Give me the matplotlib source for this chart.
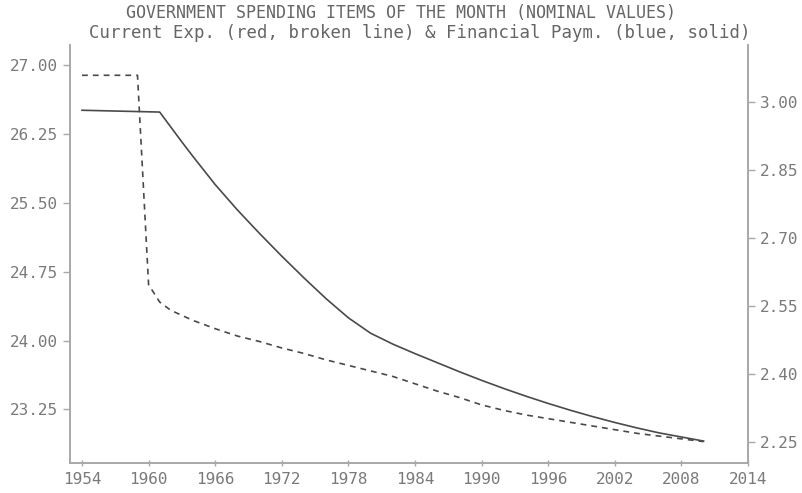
import numpy as np
import matplotlib
matplotlib.use("Agg")
import matplotlib.pyplot as plt

# current expenditure (left axis, broken line)
cur_years = [1954, 1959, 1960, 1961, 1962, 1964, 1966, 1968, 1970, 1972, 1974, 1976,
             1978, 1980, 1982, 1984, 1986, 1988, 1990, 1992, 1994, 1996, 1998, 2000,
             2002, 2004, 2006, 2008, 2010]
cur_vals = [26.89, 26.89, 24.61, 24.42, 24.33, 24.22, 24.13, 24.05, 23.99, 23.92, 23.86, 23.79,
            23.73, 23.67, 23.61, 23.53, 23.45, 23.38, 23.30, 23.24, 23.19, 23.15, 23.11, 23.07,
            23.03, 22.99, 22.96, 22.93, 22.90]

# financial payments (right axis, solid)
fin_years = [1954, 1961, 1962, 1963, 1964, 1966, 1968, 1970, 1972, 1974, 1976, 1978,
             1980, 1982, 1984, 1986, 1988, 1990, 1992, 1994, 1996, 1998, 2000, 2002,
             2004, 2006, 2008, 2010]
fin_vals = [2.982, 2.978, 2.945, 2.912, 2.880, 2.818, 2.762, 2.710, 2.660, 2.612, 2.566, 2.524,
            2.490, 2.466, 2.445, 2.425, 2.405, 2.386, 2.368, 2.351, 2.335, 2.320, 2.306, 2.293,
            2.281, 2.270, 2.261, 2.252]

left_ticks = [23.25, 24.00, 24.75, 25.50, 26.25, 27.00]
right_ticks = [2.25, 2.40, 2.55, 2.70, 2.85, 3.00]
x_ticks = list(range(1954, 2015, 6))

title = "GOVERNMENT SPENDING ITEMS OF THE MONTH (NOMINAL VALUES)"
subtitle = "Current Exp. (red, broken line) & Financial Paym. (blue, solid)"

plt.rcParams['font.family'] = ['DejaVu Sans Mono']
txt_col = '#666666'
tick_col = '#7a7a7a'
line_col = '#4a4a4a'
spine_col = '#a8a8a8'

fig = plt.figure(figsize=(8.02, 4.93), dpi=100)
ax = fig.add_axes([70/802, 1-463/493, (748-70)/802, (463-45)/493])
ax2 = ax.twinx()

ax.plot(cur_years, cur_vals, color=line_col, lw=1.2, linestyle=(0, (3.5, 3)))
ax2.plot(fin_years, fin_vals, color=line_col, lw=1.2)

ax.set_xlim(1952.92, 2014)
ax.set_ylim(22.667, 27.22)
ax2.set_ylim(2.2036, 3.126)

ax.set_xticks(x_ticks)
ax.set_yticks(left_ticks)
ax.set_yticklabels([f"{v:.2f}" for v in left_ticks])
ax2.set_yticks(right_ticks)
ax2.set_yticklabels([f"{v:.2f}" for v in right_ticks])

for a in (ax, ax2):
    a.spines['top'].set_visible(False)
    for s in ('left', 'right', 'bottom'):
        a.spines[s].set_color(spine_col)
        a.spines[s].set_linewidth(1.2)
    a.tick_params(colors=spine_col, labelcolor=tick_col, labelsize=11.5, width=1, length=5)
ax.tick_params(axis='x', direction='inout', length=5, pad=4)

fig.text(0.5, 1-13/493, title, ha='center', va='center', fontsize=12,
         color=txt_col)
fig.text(420/802, 1-33/493, subtitle, ha='center', va='center', fontsize=12.5, color=txt_col)

fig.savefig("out.png", dpi=100)
